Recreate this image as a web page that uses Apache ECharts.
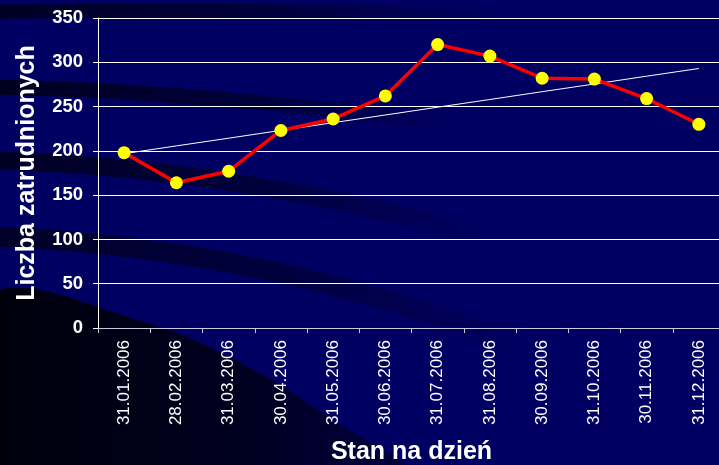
<!DOCTYPE html>
<html>
<head>
<meta charset="utf-8">
<script src="https://cdn.jsdelivr.net/npm/echarts@6/dist/echarts.min.js"></script>
<style>
html,body{margin:0;padding:0;background:#000060;}
#chart{width:719px;height:465px;}
</style>
</head>
<body>
<div id="chart"></div>
<script>
var dates = ['31.01.2006','28.02.2006','31.03.2006','30.04.2006','31.05.2006','30.06.2006',
	'31.07.2006','31.08.2006','30.09.2006','31.10.2006','30.11.2006','31.12.2006'];
var employed = [198, 164, 177, 223, 236, 262, 320, 307, 282, 281, 259, 230];
var yTicks = [0, 50, 100, 150, 200, 250, 300, 350];

// linia trendu liniowego (jak w Excelu) liczona z danych
function linearTrend(vals){
	var n = vals.length, sx = 0, sy = 0, sxy = 0, sxx = 0;
	for (var i = 0; i < n; i++) {
		sx += i; sy += vals[i]; sxy += i * vals[i]; sxx += i * i;
	}
	var b = (n * sxy - sx * sy) / (n * sxx - sx * sx);
	var a = (sy - b * sx) / n;
	var out = [];
	for (var j = 0; j < n; j++) out.push(+(a + b * j).toFixed(1));
	return out;
}
var trend = linearTrend(employed);

// ciemne "smugi" w tle (dekoracja), zanikajace w prawo
function swoosh(x1, y1, cx, cy, x2, y2, w, alpha){
	return { type: 'bezierCurve', silent: true, z: -10,
		shape: { x1: x1, y1: y1, cpx1: cx, cpy1: cy, x2: x2, y2: y2 },
		style: { fill: null, lineWidth: w,
			stroke: new echarts.graphic.LinearGradient(0, 0, 1, 0, [
				{offset: 0, color: 'rgba(0,0,18,' + alpha + ')'},
				{offset: 0.55, color: 'rgba(0,0,18,' + (alpha * 0.6) + ')'},
				{offset: 1, color: 'rgba(0,0,18,0)'}
			]) } };
}

var mycharts = echarts.init(document.getElementById('chart'));
var font = '"Liberation Sans", Arial, sans-serif';
var option = {
	backgroundColor: '#000062',
	animation: false,
	graphic: [
		swoosh(-20, 12, 250, 8, 500, 16, 14, 0.8),
		swoosh(-20, 87, 200, 90, 450, 125, 15, 0.85),
		swoosh(-20, 160, 220, 165, 480, 235, 18, 0.8),
		swoosh(-20, 236, 260, 245, 520, 345, 20, 0.75),
		{ type: 'polygon', silent: true, z: -10,
			shape: { smooth: 0.35, points: [[-10, 296], [150, 324], [250, 368], [330, 418], [420, 485], [-10, 485]] },
			style: { fill: new echarts.graphic.LinearGradient(0, 0, 1, 0, [
				{offset: 0, color: 'rgba(0,0,6,0.97)'},
				{offset: 0.6, color: 'rgba(0,0,20,0.85)'},
				{offset: 1, color: 'rgba(0,0,40,0.6)'}
			]) } },
		swoosh(-20, 320, 230, 340, 400, 480, 14, 0.0)
	],
	grid: { left: 98, top: 18, width: 627, height: 310, containLabel: false, outerBoundsMode: 'none' },
	xAxis: {
		type: 'category',
		data: dates,
		boundaryGap: true,
		name: 'Stan na dzień',
		nameLocation: 'middle',
		nameGap: 112,
		nameTextStyle: { color: '#ffffff', fontSize: 25, fontWeight: 'bold', fontFamily: font },
		axisLine: { lineStyle: { color: '#c8c8e0', width: 1 } },
		axisTick: { show: true, length: 5, lineStyle: { color: '#c8c8e0' } },
		axisLabel: { color: '#ffffff', fontSize: 17, fontFamily: font, rotate: 90, margin: 12 }
	},
	yAxis: {
		type: 'value',
		min: 0, max: 350, interval: 50,
		name: 'Liczba zatrudnionych',
		nameLocation: 'middle',
		nameGap: 58,
		nameTextStyle: { color: '#ffffff', fontSize: 25, fontWeight: 'bold', fontFamily: font },
		axisLine: { show: true, lineStyle: { color: '#ffffff', width: 1 } },
		axisTick: { show: true, length: 5, lineStyle: { color: '#ffffff' } },
		axisLabel: {
			color: '#ffffff', fontSize: 18.5, fontWeight: 'bold', fontFamily: font, margin: 15,
			formatter: function(v){ return yTicks.indexOf(v) >= 0 ? String(v) : ''; }
		},
		splitLine: { show: true, lineStyle: { color: '#ffffff', width: 1 } }
	},
	series: [{
		name: 'trend',
		type: 'line',
		data: trend,
		symbol: 'none',
		lineStyle: { color: '#ffffff', width: 1 },
		z: 2
	}, {
		name: 'Liczba zatrudnionych',
		type: 'line',
		data: employed,
		symbol: 'circle',
		symbolSize: 13,
		itemStyle: { color: '#ffff00', borderWidth: 0 },
		lineStyle: { color: '#ff0000', width: 3.5 },
		z: 3
	}]
};
mycharts.setOption(option);
</script>
</body>
</html>
